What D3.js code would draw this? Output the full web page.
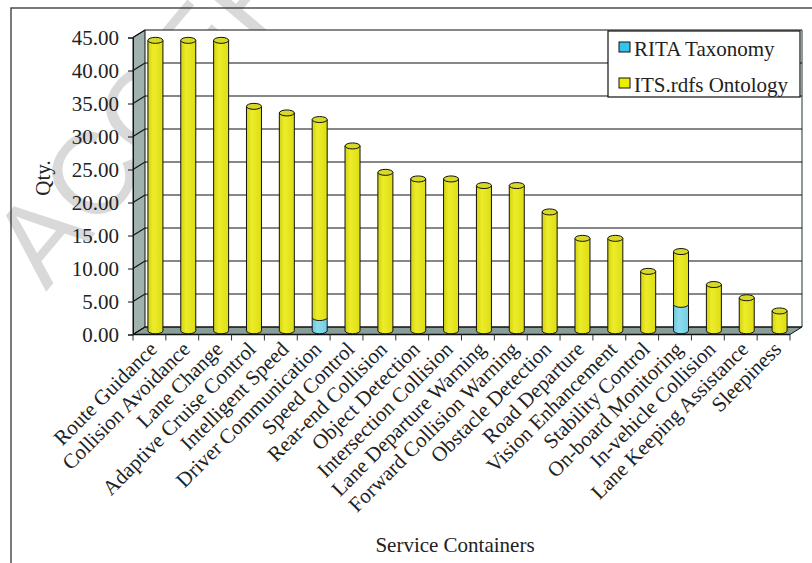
<!DOCTYPE html>
<html>
<head>
<meta charset="utf-8">
<script src="https://cdn.jsdelivr.net/npm/d3@7"></script>
<style>
  html, body { margin: 0; padding: 0; background: #fff; }
  svg { display: block; }
</style>
</head>
<body>
<svg id="chart" width="812" height="563"></svg>
<script>
// ---------- data ----------
const categories = [
  "Route Guidance", "Collision Avoidance", "Lane Change", "Adaptive Cruise Control",
  "Intelligent Speed", "Driver Communication", "Speed Control", "Rear-end Collision",
  "Object Detection", "Intersection Collision", "Lane Departure Warning",
  "Forward Collision Warning", "Obstacle Detection", "Road Departure",
  "Vision Enhancement", "Stability Control", "On-board Monitoring",
  "In-vehicle Collision", "Lane Keeping Assistance", "Sleepiness"
];
const ritaValues = [0, 0, 0, 0, 0, 2, 0, 0, 0, 0, 0, 0, 0, 0, 0, 0, 4, 0, 0, 0];
const itsValues  = [44, 44, 44, 34, 33, 30, 28, 24, 23, 23, 22, 22, 18, 14, 14, 9, 8, 7, 5, 3];
const yTickValues = [0, 5, 10, 15, 20, 25, 30, 35, 40, 45];
const seriesNames = ["RITA Taxonomy", "ITS.rdfs Ontology"];
const yTitle = "Qty.";
const xTitle = "Service Containers";
const watermark = "ACCEPTED MANUSCRIPT";

// ---------- layout ----------
const svg = d3.select("#chart");
const serif = "'Liberation Serif', 'Times New Roman', serif";
const depthX = -12, depthY = 7.5;          // back -> front offset
const backLeft = 145, backRight = 802, backTop = 30, backBottom = 327;

const xBack = d3.scaleBand().domain(categories).range([backLeft, backRight]);
const yBack = d3.scaleLinear().domain([0, 45]).range([backBottom, backTop]);
const yFront = d3.scaleLinear().domain([0, 45]).range([backBottom + depthY, backTop + depthY]);
const frontLeft = backLeft + depthX, frontRight = backRight + depthX;

const defs = svg.append("defs");
function cylGrad(id, dark, mid, light) {
  const g = defs.append("linearGradient").attr("id", id).attr("x1", 0).attr("x2", 1).attr("y1", 0).attr("y2", 0);
  g.append("stop").attr("offset", "0%").attr("stop-color", dark);
  g.append("stop").attr("offset", "35%").attr("stop-color", light);
  g.append("stop").attr("offset", "100%").attr("stop-color", mid);
}
cylGrad("gYellow", "#d2d20e", "#dede14", "#ecec2a");
cylGrad("gBlue", "#6cc6dc", "#74cde2", "#8cdcee");

// watermark (under the plot walls)
svg.append("text")
  .attr("transform", "translate(46,292) rotate(-50)")
  .attr("font-family", "'Liberation Sans', Arial, sans-serif")
  .attr("font-size", 116)
  .attr("fill", "#d9d9d9")
  .text(watermark);

// outer frame
svg.append("rect").attr("x", 11).attr("y", 8).attr("width", 820).attr("height", 580)
  .attr("fill", "none").attr("stroke", "#333").attr("stroke-width", 1.3);

// back wall
svg.append("rect").attr("x", backLeft).attr("y", backTop)
  .attr("width", backRight - backLeft).attr("height", backBottom - backTop)
  .attr("fill", "#fff");
svg.append("line").attr("x1", backRight).attr("x2", backRight).attr("y1", backTop).attr("y2", backBottom)
  .attr("stroke", "#8a9a96").attr("stroke-width", 2);

// side wall
svg.append("path")
  .attr("d", `M${frontLeft},${yFront(0)} L${frontLeft},${yFront(45)} L${backLeft},${backTop} L${backLeft},${backBottom} Z`)
  .attr("fill", "#9fb2ad").attr("stroke", "#111").attr("stroke-width", 1);

// floor
svg.append("path")
  .attr("d", `M${frontLeft},${yFront(0)} L${frontRight},${yFront(0)} L${backRight},${backBottom} L${backLeft},${backBottom} Z`)
  .attr("fill", "#899d99").attr("stroke", "#111").attr("stroke-width", 1);

// gridlines (back wall + side wall)
const grid = svg.append("g").attr("stroke", "#111").attr("stroke-width", 1.1);
yTickValues.forEach(v => {
  grid.append("line").attr("x1", backLeft).attr("x2", backRight).attr("y1", yBack(v)).attr("y2", yBack(v));
  grid.append("line").attr("x1", frontLeft).attr("x2", backLeft).attr("y1", yFront(v)).attr("y2", yBack(v));
});

// y axis
const yAxis = svg.append("g").attr("transform", `translate(${frontLeft},0)`)
  .call(d3.axisLeft(yFront).tickValues(yTickValues).tickFormat(d3.format(".2f")).tickSize(5).tickPadding(9));
yAxis.select(".domain").attr("stroke", "#111");
yAxis.selectAll(".tick line").attr("stroke", "#111");
yAxis.selectAll("text").attr("font-family", serif).attr("font-size", 21).attr("fill", "#222");

// x axis line + boundary ticks
const xFront = d3.scaleBand().domain(categories).range([frontLeft, frontRight]);
const xa = svg.append("g");
xa.append("line").attr("x1", frontLeft).attr("x2", frontRight).attr("y1", yFront(0)).attr("y2", yFront(0))
  .attr("stroke", "#111").attr("stroke-width", 1.3);
const bounds = categories.map(c => xFront(c)).concat([frontRight]);
xa.selectAll(".bt").data(bounds).join("line")
  .attr("x1", d => d).attr("x2", d => d)
  .attr("y1", yFront(0)).attr("y2", yFront(0) + 6)
  .attr("stroke", "#333").attr("stroke-width", 1);

// x labels
svg.append("g").selectAll("text").data(categories).join("text")
  .attr("transform", c => `translate(${xFront(c) + xFront.bandwidth() / 2 + 9},${yFront(0) + 16}) rotate(-45)`)
  .attr("text-anchor", "end")
  .attr("font-family", serif).attr("font-size", 21).attr("fill", "#222")
  .text(c => c);

// cylinders
const rx = 7.5, ry = 3;
const midY = v => yBack(v) + depthY / 2;
const cx = c => xBack(c) + xBack.bandwidth() / 2 + depthX / 2;
const bars = svg.append("g");
categories.forEach((c, i) => {
  const segs = [
    { v0: 0, v1: ritaValues[i], fill: "url(#gBlue)", top: "#8fd9ea" },
    { v0: ritaValues[i], v1: ritaValues[i] + itsValues[i], fill: "url(#gYellow)", top: "#d8d826" }
  ].filter(s => s.v1 > s.v0);
  segs.forEach((s, k) => {
    const x = cx(c), yb = midY(s.v0), yt = midY(s.v1);
    bars.append("path")
      .attr("d", `M${x - rx},${yt} L${x - rx},${yb} A${rx},${ry} 0 0 0 ${x + rx},${yb} L${x + rx},${yt} Z`)
      .attr("fill", s.fill).attr("stroke", "#111").attr("stroke-width", 1);
    if (k === segs.length - 1) {
      bars.append("ellipse").attr("cx", x).attr("cy", yt).attr("rx", rx).attr("ry", ry)
        .attr("fill", s.top).attr("stroke", "#111").attr("stroke-width", 1);
    }
  });
});

// legend
const lg = svg.append("g");
lg.append("rect").attr("x", 608).attr("y", 31).attr("width", 192).attr("height", 66)
  .attr("fill", "#fff").attr("stroke", "#111").attr("stroke-width", 1.2);
const legendColors = ["#35c4ec", "#eeee00"];
seriesNames.forEach((n, i) => {
  lg.append("rect").attr("x", 619).attr("y", 42 + i * 36).attr("width", 11).attr("height", 10)
    .attr("fill", legendColors[i]).attr("stroke", "#111").attr("stroke-width", 1);
  lg.append("text").attr("x", 634).attr("y", 56 + i * 36)
    .attr("font-family", serif).attr("font-size", 21).attr("fill", "#222").text(n);
});

// titles
svg.append("text").attr("transform", "translate(50,178) rotate(-90)")
  .attr("text-anchor", "middle").attr("font-family", serif).attr("font-size", 21).attr("fill", "#222")
  .text(yTitle);
svg.append("text").attr("x", 455).attr("y", 552).attr("text-anchor", "middle")
  .attr("font-family", serif).attr("font-size", 21).attr("fill", "#222").text(xTitle);
</script>
</body>
</html>
